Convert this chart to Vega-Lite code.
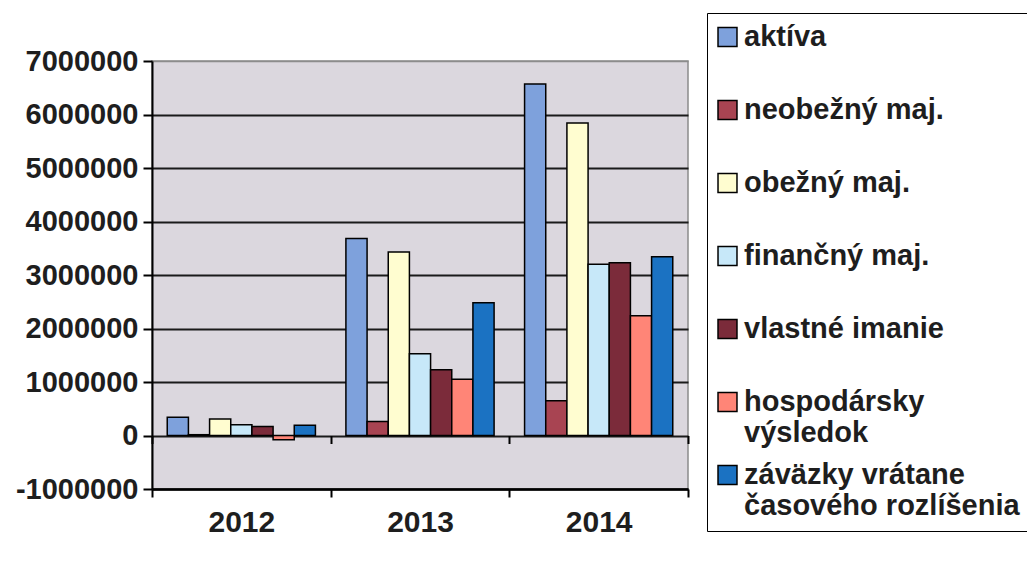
{
  "$schema": "https://vega.github.io/schema/vega-lite/v6.json",
  "width": 536,
  "height": 428,
  "autosize": "none",
  "padding": {"left": 152, "top": 61, "right": 339, "bottom": 73},
  "background": "white",
  "config": {
    "view": {"fill": "#dbd7de", "stroke": "#8c8c8c", "strokeWidth": 1.5},
    "font": "Liberation Sans"
  },
  "data": {
    "values": [
      {"rok": "2012", "seria": "aktíva", "hodnota": 340000},
      {"rok": "2012", "seria": "neobežný maj.", "hodnota": 15000},
      {"rok": "2012", "seria": "obežný maj.", "hodnota": 310000},
      {"rok": "2012", "seria": "finančný maj.", "hodnota": 200000},
      {"rok": "2012", "seria": "vlastné imanie", "hodnota": 170000},
      {"rok": "2012", "seria": "hospodársky výsledok", "hodnota": -80000},
      {"rok": "2012", "seria": "záväzky vrátane časového rozlíšenia", "hodnota": 190000},
      {"rok": "2013", "seria": "aktíva", "hodnota": 3680000},
      {"rok": "2013", "seria": "neobežný maj.", "hodnota": 260000},
      {"rok": "2013", "seria": "obežný maj.", "hodnota": 3430000},
      {"rok": "2013", "seria": "finančný maj.", "hodnota": 1530000},
      {"rok": "2013", "seria": "vlastné imanie", "hodnota": 1230000},
      {"rok": "2013", "seria": "hospodársky výsledok", "hodnota": 1050000},
      {"rok": "2013", "seria": "záväzky vrátane časového rozlíšenia", "hodnota": 2480000},
      {"rok": "2014", "seria": "aktíva", "hodnota": 6570000},
      {"rok": "2014", "seria": "neobežný maj.", "hodnota": 650000},
      {"rok": "2014", "seria": "obežný maj.", "hodnota": 5840000},
      {"rok": "2014", "seria": "finančný maj.", "hodnota": 3200000},
      {"rok": "2014", "seria": "vlastné imanie", "hodnota": 3230000},
      {"rok": "2014", "seria": "hospodársky výsledok", "hodnota": 2240000},
      {"rok": "2014", "seria": "záväzky vrátane časového rozlíšenia", "hodnota": 3340000}
    ]
  },
  "layer": [
    {
      "mark": {"type": "bar", "stroke": "black", "strokeWidth": 1.5},
      "encoding": {
        "x": {
          "field": "rok", "type": "nominal",
          "scale": {"paddingInner": 0, "paddingOuter": 0},
          "axis": {
            "title": null, "labelAngle": 0, "orient": "bottom",
            "labelFont": "Liberation Sans", "labelFontWeight": "bold", "labelFontSize": 30, "labelColor": "#1e1e1e",
            "labelPadding": 10,
            "domainColor": "black", "domainWidth": 2.5,
            "ticks": true, "tickBand": "extent", "tickSize": 8, "tickColor": "black", "tickWidth": 2
          }
        },
        "xOffset": {
          "field": "seria", "type": "nominal",
          "sort": ["aktíva", "neobežný maj.", "obežný maj.", "finančný maj.", "vlastné imanie", "hospodársky výsledok", "záväzky vrátane časového rozlíšenia"],
          "scale": {"paddingInner": 0, "paddingOuter": 0.72}
        },
        "y": {
          "field": "hodnota", "type": "quantitative",
          "scale": {"domain": [-1000000, 7000000], "nice": false, "zero": false},
          "axis": {
            "title": null,
            "values": [-1000000, 0, 1000000, 2000000, 3000000, 4000000, 5000000, 6000000, 7000000],
            "labelExpr": "toString(datum.value)",
            "labelFont": "Liberation Sans", "labelFontWeight": "bold", "labelFontSize": 29, "labelColor": "#1e1e1e",
            "labelPadding": 5,
            "domainColor": "black", "domainWidth": 2,
            "tickSize": 9, "tickColor": "black", "tickWidth": 2,
            "grid": true,
            "gridColor": {"condition": {"test": "datum.value == 7000000", "value": "#8c8c8c"}, "value": "#1a1a1a"},
            "gridWidth": {"condition": {"test": "datum.value == 7000000", "value": 1.5}, "value": 2}
          }
        },
        "color": {
          "field": "seria", "type": "nominal",
          "sort": ["aktíva", "neobežný maj.", "obežný maj.", "finančný maj.", "vlastné imanie", "hospodársky výsledok", "záväzky vrátane časového rozlíšenia"],
          "scale": {
            "domain": ["aktíva", "neobežný maj.", "obežný maj.", "finančný maj.", "vlastné imanie", "hospodársky výsledok", "záväzky vrátane časového rozlíšenia"],
            "range": ["#7ea1dc", "#a84452", "#fffdd0", "#c7e8f9", "#7b2b3a", "#ff8577", "#1b72c2"]
          },
          "legend": {
            "title": null,
            "orient": "none",
            "legendX": 555,
            "legendY": -48,
            "padding": 10,
            "strokeColor": "black",
            "fillColor": "white",
            "symbolType": "square",
            "symbolSize": 360,
            "symbolOffset": -4,
            "symbolStrokeColor": "black",
            "symbolStrokeWidth": 1.5,
            "symbolOpacity": 1,
            "labelFont": "Liberation Sans",
            "labelFontWeight": "bold",
            "labelFontSize": 29,
            "labelColor": "#1e1e1e",
            "labelLimit": 500,
            "labelOffset": 2,
            "labelBaseline": "middle",
            "labelExpr": "datum.label == 'hospodársky výsledok' ? ['hospodársky', 'výsledok'] : datum.label == 'záväzky vrátane časového rozlíšenia' ? ['záväzky vrátane', 'časového rozlíšenia'] : datum.label",
            "clipHeight": 28,
            "gridAlign": "all",
            "rowPadding": 13
          }
        }
      }
    },
    {
      "mark": {"type": "bar", "opacity": 0},
      "encoding": {
        "x": {
          "field": "rok", "type": "nominal",
          "axis": {
            "title": null, "labels": false, "domain": false, "grid": false,
            "orient": "bottom",
            "offset": -53.5,
            "ticks": true, "tickBand": "extent", "tickSize": 8, "tickColor": "black", "tickWidth": 2
          }
        },
        "y": {"field": "hodnota", "type": "quantitative"}
      }
    }
  ],
  "resolve": {"axis": {"x": "independent"}}
}
